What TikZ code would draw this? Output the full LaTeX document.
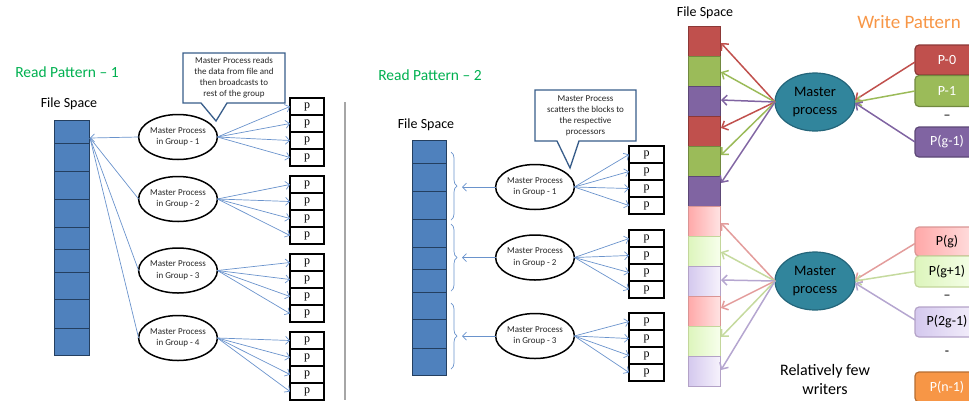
\documentclass[tikz,border=0pt]{standalone}
\usepackage{fontspec}
\setmainfont{Carlito}
\newfontfamily\pfont{Liberation Serif}
\usetikzlibrary{arrows.meta,shapes.geometric,decorations.pathreplacing,calc}

\definecolor{titlegreen}{HTML}{00B050}
\definecolor{titleorange}{HTML}{F79646}
\definecolor{fsblue}{HTML}{4F81BD}
\definecolor{linkblue}{HTML}{6A93CC}
\definecolor{fsline}{HTML}{243F60}
\definecolor{calloutline}{HTML}{385D8A}
\definecolor{sepgray}{HTML}{A6A6A6}
\definecolor{cRed}{HTML}{C0504D}
\definecolor{cGreen}{HTML}{9BBB59}
\definecolor{cPurple}{HTML}{8064A2}
\definecolor{cOrange}{HTML}{F79646}
\definecolor{dRed}{HTML}{8C3836}
\definecolor{dGreen}{HTML}{71893F}
\definecolor{dPurple}{HTML}{5C4776}
\definecolor{dOrange}{HTML}{B66D31}
\definecolor{lRedA}{HTML}{FFA8A8}
\definecolor{lRedB}{HTML}{FFE3E3}
\definecolor{lGreenA}{HTML}{DDF5BC}
\definecolor{lGreenB}{HTML}{F7FFEC}
\definecolor{lPurpleA}{HTML}{D4C8EE}
\definecolor{lPurpleB}{HTML}{F6F2FC}
\definecolor{bRed}{HTML}{D99594}
\definecolor{bGreen}{HTML}{C3D69B}
\definecolor{bPurple}{HTML}{B3A2C7}
\definecolor{aRed}{HTML}{E39D9C}
\definecolor{aGreen}{HTML}{C5DA9E}
\definecolor{aPurple}{HTML}{B5A6D0}
\definecolor{teal}{HTML}{31859C}
\definecolor{tealline}{HTML}{24657A}

\begin{document}
\begin{tikzpicture}[x=1pt,y=-1pt,
  every node/.style={inner sep=0pt, outer sep=0pt},
  heading/.style={text=titlegreen, font=\fontsize{15.5}{18}\selectfont},
  fslabel/.style={font=\fontsize{14}{16}\selectfont},
  bluecell/.style={draw=fsline, fill=fsblue, line width=0.9pt},
  master/.style={ellipse, draw=black, line width=1.5pt, fill=white,
    minimum width=68, minimum height=45, align=center,
    font=\fontsize{9}{11.5}\selectfont, text=black!85},
  pbox/.style={draw=black, line width=1.5pt, fill=white, minimum width=34,
    minimum height=17, font=\pfont\fontsize{12}{12}\selectfont},
  thinarrow/.style={draw=linkblue, line width=0.7pt,
    -{Straight Barb[length=4pt,width=8pt]}},
  thinline/.style={draw=linkblue, line width=0.7pt},
  calloutbox/.style={draw=calloutline, line width=1.3pt, fill=white, line join=miter},
  callouttext/.style={align=center, font=\fontsize{9}{11}\selectfont, text=black!85},
  bracepath/.style={draw=linkblue, line width=0.7pt, decorate,
    decoration={brace, amplitude=6pt}},
  rcell/.style={minimum width=32, minimum height=30, line width=0.8pt},
  darkcell/.style n args={2}{rcell, draw=#2, fill=#1},
  lightcell/.style n args={3}{rcell, draw=#3, left color=#1, right color=#2},
  writer/.style={ellipse, fill=teal, draw=tealline, line width=1.2pt,
    minimum width=80, minimum height=58, align=center,
    font=\fontsize{14.5}{18}\selectfont},
  warrow/.style={line width=1.5pt, -{Straight Barb[length=5pt,width=10pt]}},
  proc/.style={rounded corners=4pt, line width=1.2pt, minimum width=64,
    font=\fontsize{14}{16}\selectfont},
  darkproc/.style n args={2}{proc, fill=#1, draw=#2, text=white},
  lightproc/.style n args={3}{proc, left color=#1, right color=#2, draw=#3, text=black},
  gap/.style={font=\fontsize{14}{16}\selectfont}
]
\useasboundingbox (0,0) rectangle (969,400);

% ---------- Read pattern 1 ----------
\node[heading] (t1) at (67,72) {Read Pattern -- 1};
\node[fslabel] (fs1) at (69,104) {File Space};
\foreach \a/\b [count=\i] in {120/143,143/171,171/199,199/227,227/249,249/272,272/299,299/328,328/355}
  \node[bluecell, minimum width=35, minimum height={(\b-\a)*1pt}] (L\i) at (71.5,{(\a+\b)/2}) {};
\coordinate (hitA) at ($(L1.east)+(1,6.5)$);

\foreach \g/\cy/\top in {1/137/98, 2/199/176, 3/270.5/254, 4/338/332} {
  \node[master] (mA\g) at (178,\cy) {Master Process\\in Group - \g};
  \foreach \k in {1,...,4} {
    \node[pbox] (pA\g\k) at (307,{\top+8.5+17*(\k-1)}) {p};
    \draw[thinarrow] (mA\g.east) -- (pA\g\k.west);
  }
}
\draw[thinarrow] (mA1.west) -- (hitA);
\foreach \g in {2,3,4}
  \draw[thinline] (mA\g.west) -- (hitA);

\draw[calloutbox] (183,53) -- (285,53) -- (285,103) -- (227,103) -- (216,121)
  -- (201,103) -- (183,103) -- cycle;
\node[callouttext] (cA) at (234,78) {Master Process reads\\the data from file and\\then broadcasts to\\rest of the group};

% separator
\draw[sepgray, line width=1.2pt] (345,102) -- (345,400);

% ---------- Read pattern 2 ----------
\node[heading] (t2) at (430,75) {Read Pattern -- 2};
\node[fslabel] (fs2) at (426,125) {File Space};
\foreach \a/\b [count=\i] in {140/163,163/191,191/219,219/247,247/269,269/292,292/319,319/348,348/375}
  \node[bluecell, minimum width=34, minimum height={(\b-\a)*1pt}] (M\i) at (429,{(\a+\b)/2}) {};

\foreach \g/\cy/\bt/\bb/\top in {1/187/152/220/146, 2/257.5/224/291/230, 3/336/303/369/313} {
  \draw[bracepath] (451,\bt) -- (451,\bb);
  \coordinate (tipB\g) at (462,\cy);
  \node[master] (mB\g) at (535,\cy) {Master Process\\in Group - \g};
  \draw[thinarrow] (mB\g.west) -- (tipB\g);
  \foreach \k in {1,...,4} {
    \node[pbox, minimum width=35] (pB\g\k) at (646.5,{\top+8.5+17*(\k-1)}) {p};
    \draw[thinarrow] (mB\g.east) -- (pB\g\k.west);
  }
}

\draw[calloutbox] (535,90) -- (636,90) -- (636,141) -- (579,141) -- (570,168)
  -- (557,141) -- (535,141) -- cycle;
\node[callouttext] (cB) at (585.5,115.5) {Master Process\\scatters the blocks to\\the respective\\processors};

% ---------- Write pattern ----------
\node[fslabel] (fs3) at (705,13) {File Space};
\node[text=titleorange, font=\fontsize{19}{22}\selectfont] (t3) at (909,22) {Write Pattern};

\foreach \c/\d [count=\i] in {cRed/dRed, cGreen/dGreen, cPurple/dPurple, cRed/dRed, cGreen/dGreen, cPurple/dPurple}
  \node[darkcell={\c}{\d}] (R\i) at (704,{41+30*(\i-1)}) {};
\foreach \a/\b/\d [count=\i from 7] in {lRedA/lRedB/bRed, lGreenA/lGreenB/bGreen, lPurpleA/lPurpleB/bPurple, lRedA/lRedB/bRed, lGreenA/lGreenB/bGreen, lPurpleA/lPurpleB/bPurple}
  \node[lightcell={\a}{\b}{\d}] (R\i) at (704,{41+30*(\i-1)}) {};

\node[writer] (W1) at (815,102) {Master\\process};
\node[writer] (W2) at (815,281) {Master\\process};

\foreach \i/\col/\dy in {1/cRed/2, 2/cGreen/1, 3/cPurple/-1, 4/cRed/-3, 5/cGreen/-6, 6/cPurple/-8}
  \draw[warrow, draw=\col] (W1.west) -- ($(R\i.east)+(1,\dy)$);
\foreach \i/\col/\dy in {7/aRed/2, 8/aGreen/1, 9/aPurple/-1, 10/aRed/-3, 11/aGreen/-4, 12/aPurple/-1}
  \draw[warrow, draw=\col] (W2.west) -- ($(R\i.east)+(1,\dy)$);

\node[darkproc={cRed}{dRed}, minimum height=30] (P0) at (947,60) {P-0};
\node[darkproc={cGreen}{dGreen}, minimum height=31] (P1) at (947,91) {P-1};
\node[gap] (g1) at (947,117) {--};
\node[darkproc={cPurple}{dPurple}, minimum height=30] (Pg1) at (947,142) {P(g-1)};

\node[lightproc={lRedA}{lRedB}{bRed}, minimum height=29] (Pg) at (947,241.5) {P(g)};
\node[lightproc={lGreenA}{lGreenB}{bGreen}, minimum height=31] (Pgp) at (947,271.5) {P(g+1)};
\node[gap] (g2) at (947,297) {--};
\node[lightproc={lPurpleA}{lPurpleB}{bPurple}, minimum height=30] (P2g) at (947,322) {P(2g-1)};
\node[gap] (g3) at (947,353) {-};
\node[darkproc={cOrange}{dOrange}, minimum height=30] (Pn) at (947,387) {P(n-1)};

\draw[warrow, draw=cRed] ($(P0.west)+(0,2)$) -- ($(W1.east)+(0,-2)$);
\draw[warrow, draw=cGreen] (P1.west) -- (W1.east);
\draw[warrow, draw=cPurple] (Pg1.west) -- ($(W1.east)+(0,1)$);
\draw[warrow, draw=aRed] ($(Pg.west)+(0,2)$) -- ($(W2.east)+(0,-1)$);
\draw[warrow, draw=aGreen] (Pgp.west) -- (W2.east);
\draw[warrow, draw=aPurple] ($(P2g.west)+(0,-2)$) -- ($(W2.east)+(0,2)$);

\node[align=center, font=\fontsize{16}{19}\selectfont] (few) at (825,379) {Relatively few\\writers};
\end{tikzpicture}
\end{document}
